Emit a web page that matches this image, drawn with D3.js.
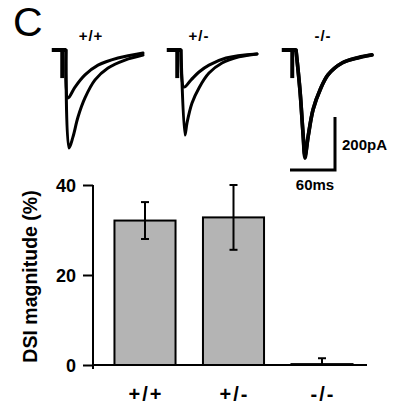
<!DOCTYPE html>
<html>
<head>
<meta charset="utf-8">
<script src="https://cdn.jsdelivr.net/npm/d3@7"></script>
<style>
  body { margin: 0; background: #fff; }
  text { font-family: "Liberation Sans", Arial, sans-serif; fill: #000; }
</style>
</head>
<body>
<script>
// genotypes and DSI magnitude (%)
const genotypes = ['+/+', '+/-', '-/-'];
const dsiMean = [32.1, 32.8, 0.2];
const dsiSem = [4.1, 7.2, 1.3];
const yTicks = [0, 20, 40];

// example traces: [time ms from onset, current pA]
const baseline = [[-19, 0], [0, 0]];
const artifact = [[-5, 0], [-5, -106]];
const traces = [
    [ // +/+
        [[0, 0], [4, -370], [9.3, -328], [16, -253], [25.3, -181], [38.7, -113], [56, -68], [78.7, -38], [102.7, -19]],
        [[0, 0], [2.7, -181], [12, -140], [25.3, -94], [42.7, -57], [69.3, -30], [102.7, -11]]
    ],
    [ // +/-
        [[0, 0], [5.3, -321], [8, -275], [14.7, -200], [24, -143], [37.3, -87], [54.7, -49], [77.3, -26], [101.3, -15]],
        [[0, 0], [4, -140], [13.3, -113], [24, -83], [37.3, -57], [60, -30], [101.3, -15]]
    ],
    [ // -/-
        [[0, 0], [5.3, -151], [9.3, -313], [12, -408], [16, -328], [22.7, -226], [32, -151], [42.7, -94], [61.3, -49], [82.7, -30], [101.3, -19]],
        [[0, 0], [5.5, -160], [9.5, -320], [12, -398], [16.5, -322], [23, -222], [32.5, -148], [43, -92], [62, -48], [83, -28], [101.3, -18]]
    ]
];
const scaleBarMs = 60;
const scaleBarPa = 200;

const svg = d3.select('body').append('svg')
    .attr('width', 398)
    .attr('height', 413);

// panel letter
svg.append('text')
    .attr('x', 13)
    .attr('y', 36)
    .style('font-size', '41px')
    .text('C');

// ---- traces ----
const tScale = d3.scaleLinear().domain([0, 60]).range([0, 45]);
const iScale = d3.scaleLinear().domain([0, -200]).range([0, 53]);
const onsetX = d3.scalePoint().domain(genotypes).range([66, 296]);
const traceTop = 50;

const line = d3.line()
    .x(d => tScale(d[0]))
    .y(d => iScale(d[1]));
const smooth = d3.line()
    .x(d => tScale(d[0]))
    .y(d => iScale(d[1]))
    .curve(d3.curveCatmullRom.alpha(0.5));

genotypes.forEach((g, i) => {
    const grp = svg.append('g')
        .attr('transform', `translate(${onsetX(g)}, ${traceTop})`);
    grp.append('path').attr('d', line(baseline))
        .attr('fill', 'none').attr('stroke', '#000').attr('stroke-width', 4);
    grp.append('path').attr('d', line(artifact))
        .attr('fill', 'none').attr('stroke', '#000').attr('stroke-width', 4);
    grp.selectAll('.trace').data(traces[i]).enter()
        .append('path')
        .attr('class', 'trace')
        .attr('d', smooth)
        .attr('fill', 'none')
        .attr('stroke', '#000')
        .attr('stroke-width', i == 2 ? 3.6 : 3)
        .attr('stroke-linejoin', 'round')
        .attr('stroke-linecap', 'round');
});

svg.selectAll('.glabel').data(genotypes).enter()
    .append('text')
    .attr('class', 'glabel')
    .attr('x', (d, i) => [91, 199, 323][i])
    .attr('y', 41)
    .attr('text-anchor', 'middle')
    .style('font-size', '15px')
    .style('font-weight', 'bold')
    .style('letter-spacing', '1px')
    .text(d => d);

// scale bar
const sbX = 335, sbY = 170;
svg.append('path')
    .attr('d', `M${sbX - tScale(scaleBarMs)},${sbY}H${sbX}V${sbY - iScale(-scaleBarPa)}`)
    .attr('fill', 'none')
    .attr('stroke', '#000')
    .attr('stroke-width', 3);
svg.append('text')
    .attr('x', 342).attr('y', 150)
    .style('font-size', '15px').style('font-weight', 'bold')
    .text(scaleBarPa + 'pA');
svg.append('text')
    .attr('x', 315).attr('y', 190)
    .attr('text-anchor', 'middle')
    .style('font-size', '15px').style('font-weight', 'bold')
    .text(scaleBarMs + 'ms');

// ---- bar chart ----
const axisX = 93;
const y = d3.scaleLinear().domain([0, 40]).range([365, 185]);
const x = d3.scaleBand().domain(genotypes).range([100.75, 366.25])
    .paddingInner(0.31).paddingOuter(0.155);

const bars = genotypes.map((g, i) => ({ g: g, mean: dsiMean[i], sem: dsiSem[i] }));

svg.selectAll('.bar').data(bars).enter()
    .append('rect')
    .attr('class', 'bar')
    .attr('x', d => x(d.g))
    .attr('y', d => y(d.mean))
    .attr('width', x.bandwidth())
    .attr('height', d => y(0) - y(d.mean))
    .attr('fill', '#b4b4b4')
    .attr('stroke', '#000')
    .attr('stroke-width', 2);

const err = svg.selectAll('.err').data(bars).enter()
    .append('g').attr('class', 'err')
    .attr('transform', d => `translate(${x(d.g) + x.bandwidth() / 2}, 0)`);
err.append('line')
    .attr('y1', d => y(d.mean + d.sem))
    .attr('y2', d => y(Math.max(0, d.mean - d.sem)))
    .attr('stroke', '#000').attr('stroke-width', 2);
err.append('line')
    .attr('x1', -4).attr('x2', 4)
    .attr('y1', d => y(d.mean + d.sem)).attr('y2', d => y(d.mean + d.sem))
    .attr('stroke', '#000').attr('stroke-width', 2);
err.filter(d => d.mean - d.sem > 0).append('line')
    .attr('x1', -4).attr('x2', 4)
    .attr('y1', d => y(d.mean - d.sem)).attr('y2', d => y(d.mean - d.sem))
    .attr('stroke', '#000').attr('stroke-width', 2);

// x axis line
svg.append('line')
    .attr('x1', axisX).attr('x2', 367)
    .attr('y1', y(0)).attr('y2', y(0))
    .attr('stroke', '#000').attr('stroke-width', 2);

// y axis
const yAxis = svg.append('g')
    .attr('transform', `translate(${axisX}, 0)`)
    .call(d3.axisLeft(y).tickValues(yTicks).tickSize(10).tickSizeOuter(0).tickPadding(7));
yAxis.select('.domain').attr('stroke-width', 2).attr('d', `M0,${y(40)}V${y(0) + 4}`);
yAxis.selectAll('.tick line').attr('stroke-width', 2);
yAxis.selectAll('.tick text')
    .style('font-size', '18px')
    .style('font-weight', 'bold')
    .style('font-family', '"Liberation Sans", Arial, sans-serif')
    .attr('dy', '0.36em');

svg.append('text')
    .attr('transform', `translate(37, ${(y(0) + y(40)) / 2 + 1.5}) rotate(-90)`)
    .attr('text-anchor', 'middle')
    .style('font-size', '19.5px')
    .style('font-weight', 'bold')
    .text('DSI magnitude (%)');

svg.selectAll('.xlabel').data(genotypes).enter()
    .append('text')
    .attr('class', 'xlabel')
    .attr('x', d => x(d) + x.bandwidth() / 2 + 1)
    .attr('y', 401)
    .attr('text-anchor', 'middle')
    .style('font-size', '20px')
    .style('font-weight', 'bold')
    .style('letter-spacing', '2px')
    .text(d => d);
</script>
</body>
</html>
